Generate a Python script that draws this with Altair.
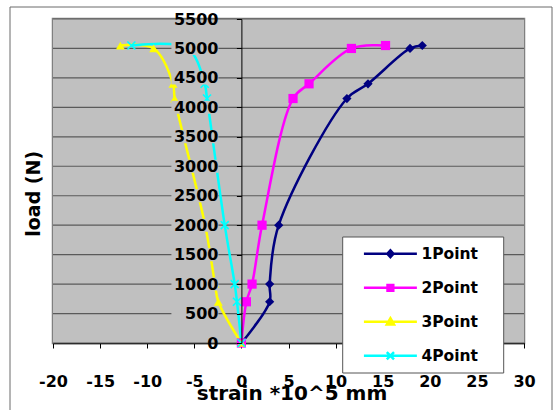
import altair as alt
import pandas as pd

# ---- data ---------------------------------------------------------------
series_names = ["1Point", "2Point", "3Point", "4Point"]
series_colors = ["#000080", "#FF00FF", "#FFFF00", "#00FFFF"]

loads = [0, 700, 1000, 2000, 4150, 4400, 5000, 5050]
strain_1point = [0, 3.0, 3.0, 3.96, 11.2, 13.44, 17.9, 19.2]
strain_2point = [0, 0.53, 1.13, 2.19, 5.48, 7.18, 11.68, 15.3]
strain_3point = [0, -2.45, -2.8, -3.85, -7.08, -7.26, -9.31, -12.85]
strain_4point = [0, -0.47, -0.71, -1.77, -3.65, -3.9, -5.7, -11.68]

x_tick_values = list(range(-20, 35, 5))
y_tick_values = list(range(0, 6000, 500))

rows = []
for name, strains in zip(series_names,
                         [strain_1point, strain_2point, strain_3point, strain_4point]):
    for step, (s, load) in enumerate(zip(strains, loads)):
        rows.append({"series": name, "strain": s, "load": load, "step": step})
df = pd.DataFrame(rows)
grid_df = pd.DataFrame({"load": y_tick_values})
one_row = pd.DataFrame({"k": [0]})

# ---- geometry / style ---------------------------------------------------
W, H = 471, 324
X_MIN, X_MAX, Y_MAX = -20, 30, 5500
PAD_LEFT, PAD_TOP = 53, 19
axis_shift = W * (0 - X_MIN) / (X_MAX - X_MIN)   # pixel position of strain = 0
FONT = "DejaVu Sans"
PLOT_BG = "#C0C0C0"
PLAIN_LABEL = "datum.value + ''"   # plain integers with an ASCII minus sign

x_scale = alt.Scale(domain=[X_MIN, X_MAX], nice=False, zero=False)
y_scale = alt.Scale(domain=[0, Y_MAX], nice=False)
color_scale = alt.Scale(domain=series_names, range=series_colors)

x_axis = alt.Axis(
    values=x_tick_values, title="strain *10^5 mm", grid=False, labelExpr=PLAIN_LABEL,
    domainColor="black", domainWidth=1.5, tickColor="black", tickSize=5,
    labelFont=FONT, labelFontSize=16, labelFontWeight="bold", labelColor="black",
    labelPadding=25, labelFlush=False, labelOverlap=False,
    titleFont=FONT, titleFontSize=20, titleFontWeight="bold", titleColor="black",
    titleX=W / 2 + 3, titleY=56, titleBaseline="alphabetic",
)
y_axis = alt.Axis(
    values=y_tick_values, title="load (N)", grid=False, labelExpr=PLAIN_LABEL,
    offset=-axis_shift, zindex=1,
    domainColor="black", domainWidth=1, tickColor="black", tickSize=5,
    labelFont=FONT, labelFontSize=16, labelFontWeight="bold", labelColor="black",
    labelPadding=18.4, labelOverlap=False,
    titleFont=FONT, titleFontSize=19, titleFontWeight="bold", titleColor="black",
    titleX=33.8 - PAD_LEFT - axis_shift, titleY=174.3, titleAngle=270,
    titleAlign="center", titleBaseline="middle",
)

# legend symbols: a line segment with the series marker (stroked only)
legend_paths = [
    "M-3.31,0H3.31M0,-0.42L0.38,0L0,0.42L-0.38,0ZM0,-0.15L0.13,0L0,0.15L-0.13,0Z",
    "M-3.31,0H3.31M-0.36,-0.36H0.36V0.36H-0.36ZM-0.1,-0.1H0.1V0.1H-0.1Z",
    "M-3.31,0H3.31M0,-0.45L0.45,0.33H-0.45ZM0,-0.1L0.12,0.12H-0.12Z",
    "M-3.31,0H3.31M-0.45,-0.45L0.45,0.45M-0.45,0.45L0.45,-0.45",
]
legend_def = alt.Legend(
    title=None, orient="none", legendX=327.9, legendY=225.3,
    padding=0, rowPadding=16, labelOffset=21.5,
    symbolSize=256, symbolStrokeWidth=2.5,
    labelFont=FONT, labelFontSize=15.5, labelFontWeight="bold", labelColor="black",
)

x_enc = alt.X("strain:Q", scale=x_scale, axis=x_axis)
y_enc = alt.Y("load:Q", scale=y_scale, axis=y_axis)
color_enc = alt.Color("series:N", scale=color_scale, legend=legend_def)

# plot-area fill
plot_bg = alt.Chart(one_row).mark_rect(fill=PLOT_BG).encode(
    x=alt.value(0), x2=alt.value(W), y=alt.value(0), y2=alt.value(H)
)

# horizontal gridlines
grid = alt.Chart(grid_df).mark_rule(color="#5a5a5a", strokeWidth=1.2).encode(y=y_enc)

# smoothed series lines
lines = alt.Chart(df).mark_line(interpolate="catmull-rom", strokeWidth=2.5).encode(
    x=x_enc, y=y_enc, color=color_enc, order=alt.Order("step:Q"),
)


def marker_layer(name, **mark_kw):
    return alt.Chart(df).transform_filter(alt.datum.series == name).mark_point(
        opacity=1, **mark_kw
    ).encode(x=x_enc, y=y_enc, color=color_enc)


markers = [
    marker_layer("1Point", shape="diamond", filled=True, size=85),
    marker_layer("2Point", shape="square", filled=True, size=85),
    marker_layer("3Point", shape="triangle-up", filled=True, size=80),
    marker_layer("4Point", shape="M-1,-1L1,1M-1,1L1,-1", filled=False, size=64,
                 strokeWidth=1.6),
]

# opaque backing behind the load labels that sit inside the plot
label_backs = alt.Chart(grid_df).transform_filter(
    (alt.datum.load > 0) & (alt.datum.load < Y_MAX)
).mark_tick(
    orient="horizontal", size=47, thickness=13, color=PLOT_BG, opacity=1, xOffset=-46.5
).encode(
    x=alt.XDatum(0, axis=x_axis),
    y=y_enc,
)

# legend panel
legend_panel = alt.Chart(one_row).mark_rect(
    fill="white", stroke="#555555", strokeWidth=1
).encode(
    x=alt.value(289.7), x2=alt.value(450.7), y=alt.value(218), y2=alt.value(354)
)

# legend entries (no marks drawn, only the legend)
legend_layer = alt.Chart(df).transform_filter("false").mark_point(
    filled=False, opacity=1, strokeWidth=2.5
).encode(
    color=color_enc,
    shape=alt.Shape("series:N", scale=alt.Scale(domain=series_names, range=legend_paths),
                    legend=legend_def),
)

# outer chart frame
frame = alt.Chart(one_row).mark_rect(
    fill="white", fillOpacity=0, stroke="#6a6a6a", strokeWidth=1
).encode(
    x=alt.value(10 - PAD_LEFT), x2=alt.value(552 - PAD_LEFT),
    y=alt.value(7 - PAD_TOP), y2=alt.value(430 - PAD_TOP),
)

chart = alt.layer(
    plot_bg, grid, lines, *markers, label_backs, legend_panel, legend_layer, frame
).properties(
    width=W, height=H,
    autosize=alt.AutoSizeParams(type="none"),
    padding={"left": PAD_LEFT, "top": PAD_TOP, "right": 555 - PAD_LEFT - W,
             "bottom": 410 - PAD_TOP - H},
).configure(
    background="white"
).configure_view(
    fill=PLOT_BG, stroke="#808080", strokeWidth=2.5
)

chart.save("out.html", embed_options={"renderer": "svg", "actions": False})
